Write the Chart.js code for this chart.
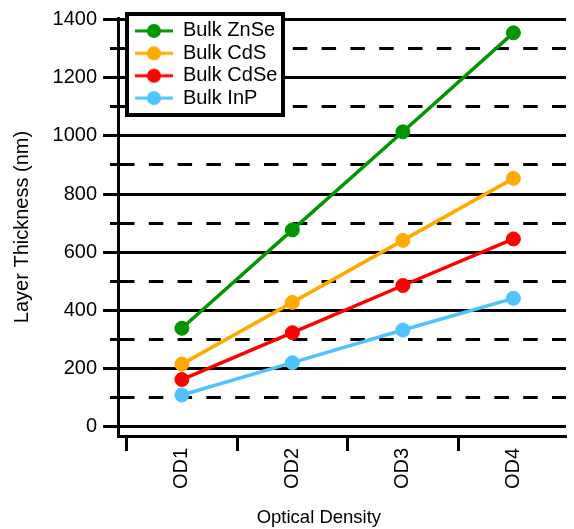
<!DOCTYPE html>
<html><head><meta charset="utf-8">
<script src="https://cdn.jsdelivr.net/npm/chart.js@4"></script>
<style>html,body{margin:0;padding:0;background:#fff;overflow:hidden}</style>
</head><body>
<canvas id="c" width="574" height="529"></canvas>
<script>
const categories = ['OD1', 'OD2', 'OD3', 'OD4'];
const seriesNames = ['Bulk ZnSe', 'Bulk CdS', 'Bulk CdSe', 'Bulk InP'];
const znse = [339, 677, 1014, 1354];
const cds = [216, 428, 641, 854];
const cdse = [163, 324, 486, 646];
const inp = [110, 221, 333, 442];
const yMajorTicks = [0, 200, 400, 600, 800, 1000, 1200, 1400];
const yMinorTicks = [100, 300, 500, 700, 900, 1100, 1300];
const colors = ['#009600', '#FFAA00', '#FF0000', '#4DC3FF'];
const seriesValues = [znse, cds, cdse, inp];

const FONT = "'Liberation Sans', Arial, Helvetica, sans-serif";
Chart.defaults.font.family = FONT;
Chart.defaults.color = '#000';

function legendIcon(color) {
  const c = document.createElement('canvas');
  c.width = 38; c.height = 16;
  const g = c.getContext('2d');
  g.strokeStyle = color; g.lineWidth = 3;
  g.beginPath(); g.moveTo(0, 8); g.lineTo(38, 8); g.stroke();
  g.fillStyle = color;
  g.beginPath(); g.arc(19, 8, 7, 0, Math.PI * 2); g.fill();
  return c;
}
const icons = colors.map(legendIcon);

const datasets = seriesNames.map((name, i) => ({
  label: name,
  data: seriesValues[i].map((v, j) => ({x: j + 1, y: v})),
  borderColor: colors[i],
  backgroundColor: colors[i],
  pointBackgroundColor: colors[i],
  pointBorderColor: colors[i],
  borderWidth: 3.5,
  pointRadius: 7,
  pointBorderWidth: 1,
  pointHoverRadius: 7,
  tension: 0,
  clip: false
}));

const isMajor = v => yMajorTicks.includes(v);
const isMinorTick = ctx => !!(ctx.tick && !isMajor(ctx.tick.value));

const legendBoxPlugin = {
  id: 'legendBox',
  afterLayout(chart) {
    const lg = chart.legend;
    if (!lg) return;
    lg.left = chart.chartArea.left + 14.5;
    lg.top = chart.chartArea.top + 0.5;
    if (!lg._boxed) {
      const orig = lg.draw;
      lg.draw = function () {
        const ctx = this.ctx;
        ctx.save();
        ctx.fillStyle = '#fff';
        ctx.fillRect(this.left - 7.5, this.top - 6.5, 160, 105);
        ctx.lineWidth = 4;
        ctx.strokeStyle = '#000';
        ctx.strokeRect(this.left - 5.5, this.top - 4.5, 156, 101);
        ctx.restore();
        orig.call(this);
      };
      lg._boxed = true;
    }
  }
};

new Chart(document.getElementById('c'), {
  type: 'line',
  data: {datasets},
  plugins: [legendBoxPlugin],
  options: {
    responsive: false,
    animation: false,
    layout: {padding: {top: 18, right: 0, left: 0, bottom: 0}},
    plugins: {
      tooltip: {enabled: false},
      legend: {
        position: 'chartArea',
        align: 'start',
        labels: {
          usePointStyle: true,
          pointStyleWidth: 38,
          padding: 2.4,
          color: '#000',
          font: {size: 20, family: FONT},
          generateLabels(chart) {
            return chart.data.datasets.map((ds, i) => ({
              text: ds.label,
              fillStyle: ds.borderColor,
              strokeStyle: ds.borderColor,
              lineWidth: 0,
              pointStyle: icons[i],
              hidden: false,
              datasetIndex: i
            }));
          }
        }
      }
    },
    scales: {
      x: {
        type: 'linear',
        min: 0.422,
        max: 4.476,
        afterBuildTicks(scale) {
          const t = [];
          categories.forEach((c, i) => { t.push({value: i + 0.5}); t.push({value: i + 1}); });
          scale.ticks = t;
        },
        afterFit(scale) {
          scale.height = 93;
          scale.paddingLeft = 0; scale.paddingRight = 0;
        },
        ticks: {
          autoSkip: false,
          minRotation: 90,
          maxRotation: 90,
          padding: -3,
          font: {size: 20},
          color: '#000',
          callback(v) { return Number.isInteger(v) ? categories[v - 1] : ''; }
        },
        grid: {
          drawOnChartArea: false,
          drawTicks: true,
          tickLength: 15,
          tickWidth: 3,
          tickColor: ctx => (ctx.tick && Number.isInteger(ctx.tick.value)) ? 'rgba(0,0,0,0)' : '#000'
        },
        border: {display: true, color: '#000', width: 3},
        title: {
          display: true,
          text: 'Optical Density\u00a0\u00a0\u00a0\u00a0\u00a0\u00a0\u00a0\u00a0\u00a0',
          font: {size: 18.5},
          color: '#000',
          padding: {top: 0, bottom: 0}
        }
      },
      y: {
        type: 'linear',
        min: -31,
        max: 1405,
        afterBuildTicks(scale) {
          scale.ticks = yMajorTicks.concat(yMinorTicks).sort((a, b) => a - b).map(v => ({value: v}));
        },
        afterFit(scale) {
          scale.width = 118;
          scale.paddingTop = 0; scale.paddingBottom = 0;
        },
        ticks: {
          autoSkip: false,
          padding: 6,
          font: {size: 20},
          color: '#000',
          callback(v) { return isMajor(v) ? String(v) : ''; }
        },
        grid: {
          color: '#000',
          lineWidth: 3,
          tickLength: 15,
          tickWidth: 3,
          tickColor: '#000',
          tickBorderDash: ctx => isMinorTick(ctx) ? [0, 7, 30] : []
        },
        border: {
          display: true, color: '#000', width: 3,
          dash: ctx => isMinorTick(ctx) ? [14.5, 14.3] : []
        },
        title: {
          display: true,
          text: 'Layer Thickness (nm)',
          font: {size: 20},
          color: '#000',
          padding: {top: 10, bottom: 0}
        }
      }
    }
  }
});
</script>
</body></html>
